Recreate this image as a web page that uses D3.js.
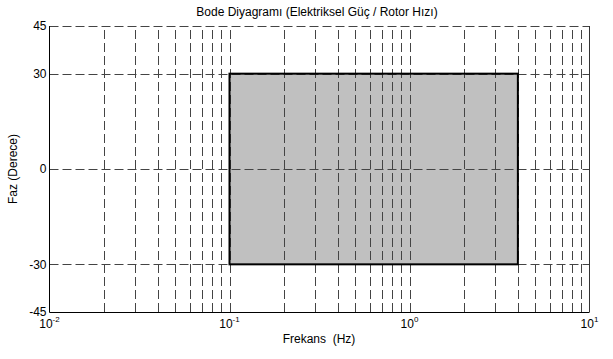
<!DOCTYPE html>
<html lang="en">
<head>
  <meta charset="UTF-8">
  <title>Bode Diyagramı</title>
  <script src="https://d3js.org/d3.v7.min.js"></script>
  <style>
    body { margin: 0; background: white; font-family: "Liberation Sans", Arial, sans-serif; }
  </style>
</head>
<body>
  <svg id="chart" width="613" height="359"></svg>
  <script>
    // Data
    const freqDomain = [0.01, 10];
    const phaseDomain = [-45, 45];
    const phaseTicks = [-45, -30, 0, 30, 45];
    const decadeTicks = [0.01, 0.1, 1, 10];
    const decadeExponents = ["-2", "-1", "0", "1"];
    const bandFreq = [0.1, 4];
    const bandPhase = [-30, 30];

    const svg = d3.select("#chart");
    const margin = { left: 49.5, right: 23.5, top: 26, bottom: 47 };
    const W = 613, H = 359;

    const x = d3.scaleLog().domain(freqDomain).range([margin.left, W - margin.right]);
    const y = d3.scaleLinear().domain(phaseDomain).range([H - margin.bottom, margin.top]);

    // Minor + major log ticks for the vertical grid
    const gridFreqs = x.ticks().filter(d => d > freqDomain[0] * 1.0001 && d < freqDomain[1] * 0.9999);

    // Shaded band
    svg.append("rect")
      .attr("x", x(bandFreq[0]))
      .attr("y", y(bandPhase[1]))
      .attr("width", x(bandFreq[1]) - x(bandFreq[0]))
      .attr("height", y(bandPhase[0]) - y(bandPhase[1]))
      .attr("fill", "#c0c0c0");

    // Grid lines (dashed)
    const grid = svg.append("g")
      .attr("stroke", "#444")
      .attr("stroke-width", 1)
      .attr("stroke-dasharray", "9,4");

    grid.selectAll(".vg")
      .data(gridFreqs)
      .join("line")
      .attr("x1", d => Math.round(x(d)) + 0.5)
      .attr("x2", d => Math.round(x(d)) + 0.5)
      .attr("y1", y(phaseDomain[0]))
      .attr("y2", y(phaseDomain[1]));

    grid.selectAll(".hg")
      .data(phaseTicks.filter(d => d !== phaseDomain[0]))
      .join("line")
      .attr("x1", x(freqDomain[0]))
      .attr("x2", x(freqDomain[1]))
      .attr("y1", d => Math.round(y(d)) + 0.5)
      .attr("y2", d => Math.round(y(d)) + 0.5);

    // Band outline
    svg.append("rect")
      .attr("x", x(bandFreq[0]))
      .attr("y", y(bandPhase[1]))
      .attr("width", x(bandFreq[1]) - x(bandFreq[0]))
      .attr("height", y(bandPhase[0]) - y(bandPhase[1]))
      .attr("fill", "none")
      .attr("stroke", "black")
      .attr("stroke-width", 2);

    // Axes lines: left, bottom, right (top is only the dashed grid)
    const axes = svg.append("g").attr("stroke", "black").attr("stroke-width", 1).attr("fill", "none");
    const L = x(freqDomain[0]), R = x(freqDomain[1]), T = y(phaseDomain[1]), B = y(phaseDomain[0]);
    axes.append("path").attr("d", `M${L},${T}V${B + 0.5}H${R}`);
    axes.append("path").attr("d", `M${R},${T}V${B}`).attr("stroke", "#333");

    // Y tick labels
    svg.append("g")
      .selectAll("text")
      .data(phaseTicks)
      .join("text")
      .attr("x", L - 3)
      .attr("y", d => y(d))
      .attr("dy", "0.35em")
      .attr("text-anchor", "end")
      .attr("font-size", 12)
      .text(d => d);

    // X tick labels with superscript exponents
    const xl = svg.append("g")
      .selectAll("text")
      .data(decadeTicks)
      .join("text")
      .attr("x", d => x(d))
      .attr("y", B + 16)
      .attr("text-anchor", "middle")
      .attr("font-size", 12);
    xl.append("tspan").text("10");
    xl.append("tspan")
      .attr("dy", -6)
      .attr("font-size", 8)
      .text((d, i) => decadeExponents[i]);

    // Title and axis labels
    svg.append("text")
      .attr("x", 317).attr("y", 16)
      .attr("text-anchor", "middle")
      .attr("font-size", 12)
      .text("Bode Diyagramı (Elektriksel Güç / Rotor Hızı)");

    svg.append("text")
      .attr("x", 319).attr("y", 343)
      .attr("text-anchor", "middle")
      .attr("font-size", 12)
      .style("white-space", "pre")
      .text("Frekans  (Hz)");

    svg.append("text")
      .attr("transform", `translate(17,${(T + B) / 2}) rotate(-90)`)
      .attr("text-anchor", "middle")
      .attr("font-size", 12)
      .text("Faz (Derece)");
  </script>
</body>
</html>
